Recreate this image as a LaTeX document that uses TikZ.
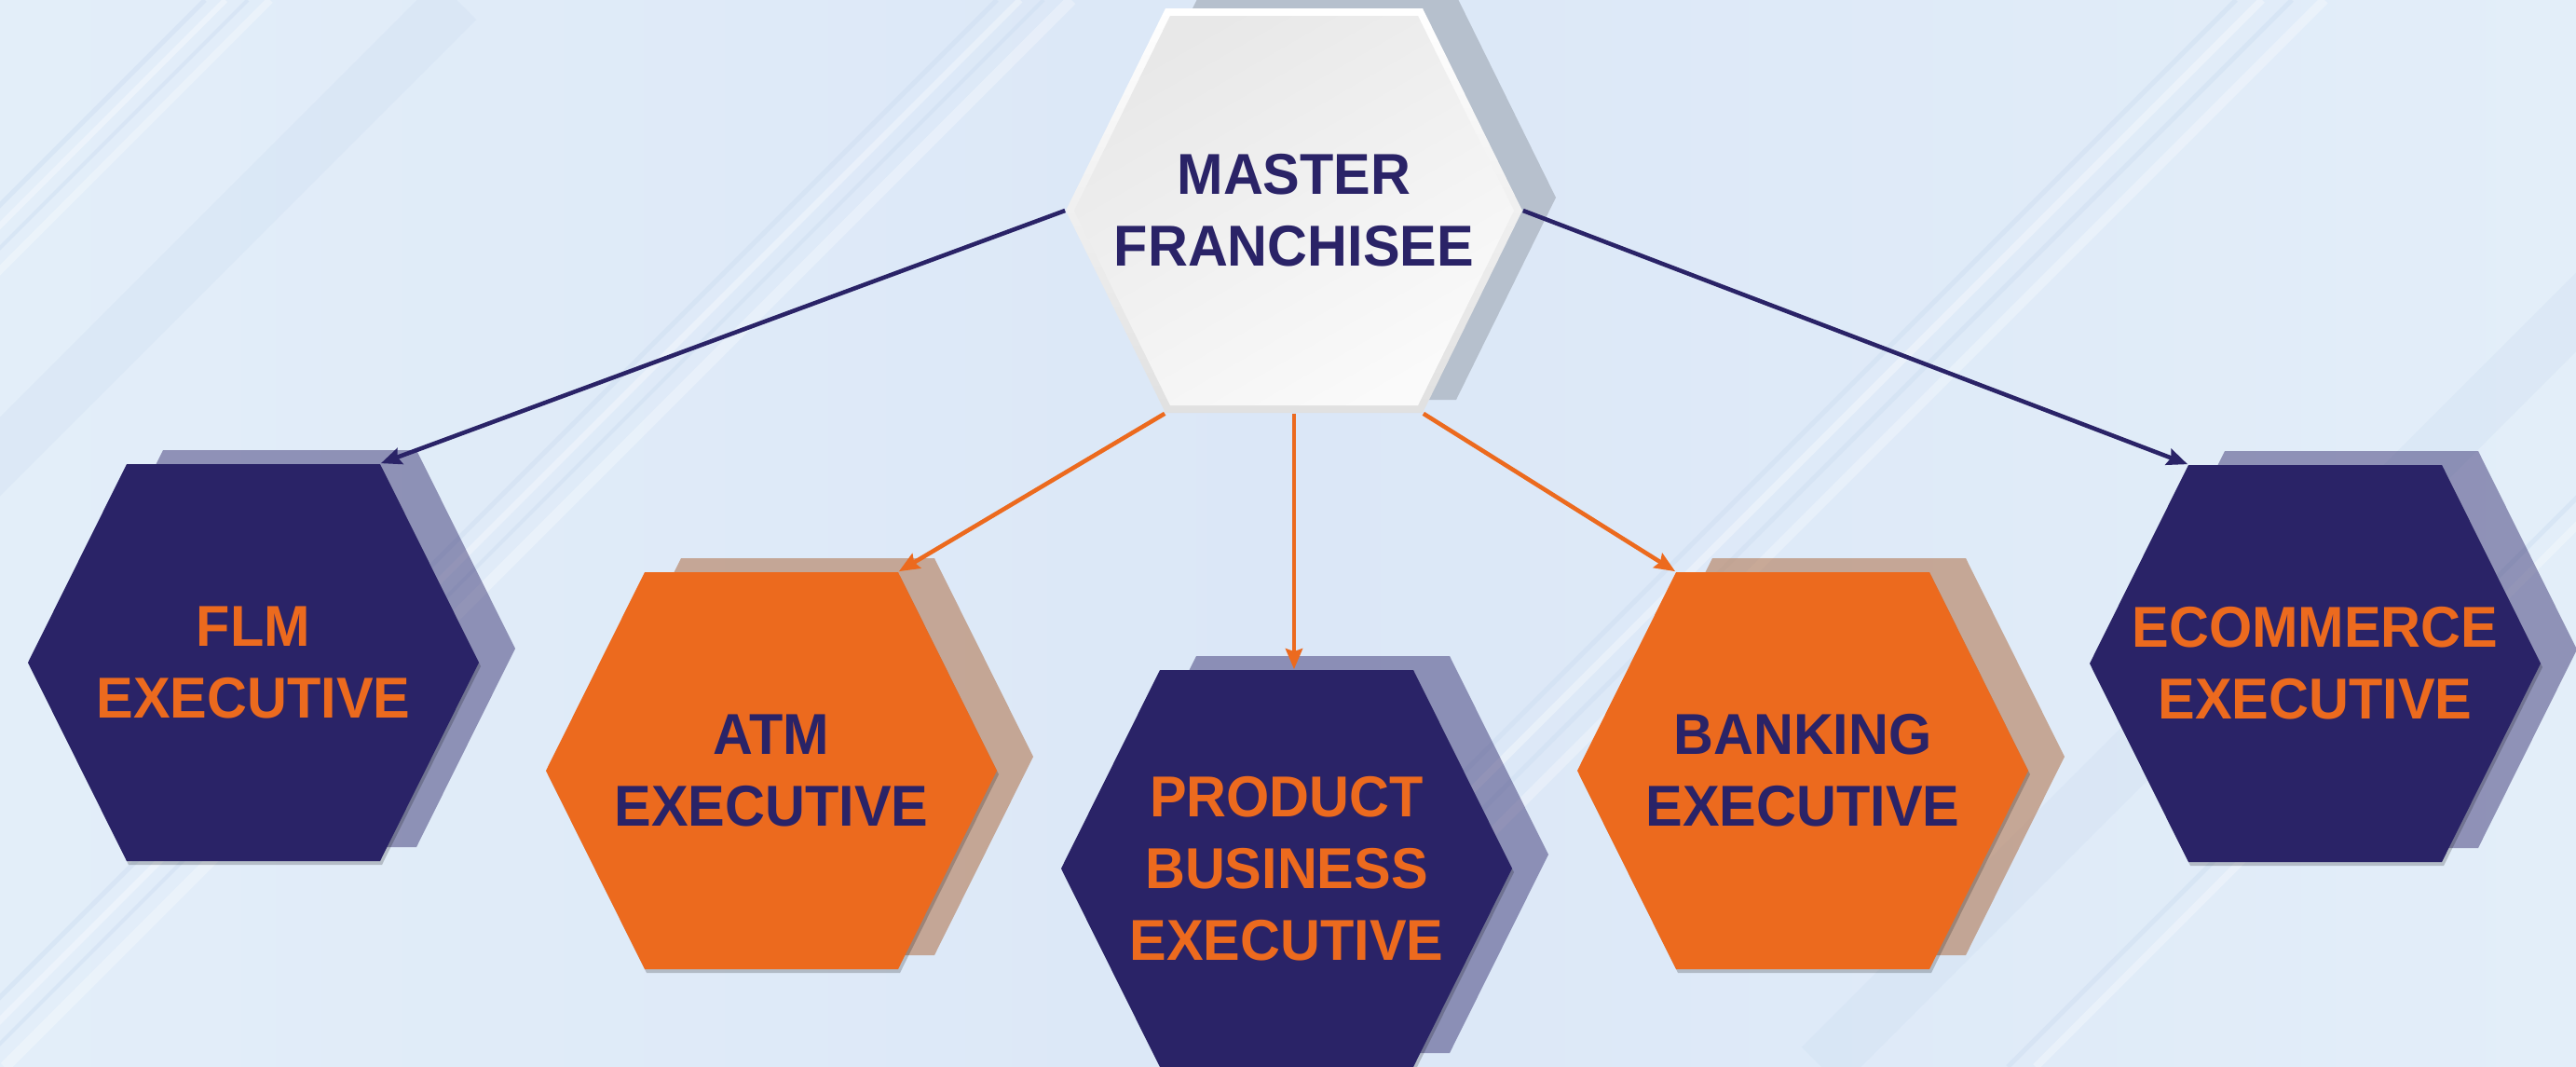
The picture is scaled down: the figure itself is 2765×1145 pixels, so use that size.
\documentclass[tikz,border=0pt]{standalone}
\usepackage{xcolor}
\usepackage{fontspec}
\usepackage{tikz}
\usetikzlibrary{arrows.meta,shapes,positioning,calc}

\newfontfamily\hexfont[FakeStretch=0.96]{Liberation Sans}

\definecolor{navy}{HTML}{2A2367}
\definecolor{brandorange}{HTML}{EC6A1E}
\definecolor{bgmid}{HTML}{DBE7F7}
\definecolor{bgside}{HTML}{E3EEF9}
\definecolor{streakdark}{HTML}{CFDFF2}
\definecolor{orangeshade}{HTML}{B47A55}

% flat-topped hexagon round (cx,cy): half width, half top edge, half height
\newcommand{\hexat}[5]{(#1-#3,#2) -- (#1-#4,#2-#5) -- (#1+#4,#2-#5) -- (#1+#3,#2) -- (#1+#4,#2+#5) -- (#1-#4,#2+#5) -- cycle}

\tikzset{
  hexlabel/.style={rectangle, inner sep=0pt, minimum width=4.84cm, minimum height=4.26cm, align=center,
    font={\hexfont\fontsize{17.6pt}{21.9pt}\bfseries}},
  navyarrow/.style={draw=navy, line width=1.3pt, -{Stealth[length=0.22cm,width=0.18cm,inset=0.03cm]}},
  orangearrow/.style={draw=brandorange, line width=1.3pt, -{Stealth[length=0.22cm,width=0.18cm,inset=0.03cm]}}
}

\begin{document}
\begin{tikzpicture}[x=0.01cm, y=-0.01cm]
    % Canvas
    \useasboundingbox (0,0) rectangle (2765,1145);
    \clip (0,0) rectangle (2765,1145);
    \shade[left color=bgside, right color=bgside, middle color=bgmid] (0,0) rectangle (2765,1145);

    % Diagonal streaks
    \foreach \sx/\w/\col/\op in {220/0.05cm/streakdark/0.5, 242/0.06cm/white/0.35, 266/0.04cm/streakdark/0.5,
        290/0.08cm/white/0.3, 490/0.6cm/streakdark/0.35, 1070/0.05cm/streakdark/0.5, 1095/0.07cm/white/0.35,
        1120/0.04cm/streakdark/0.5, 1150/0.12cm/white/0.3, 2400/0.05cm/streakdark/0.5, 2428/0.08cm/white/0.35,
        2460/0.05cm/streakdark/0.5, 2495/0.1cm/white/0.3, 3100/0.6cm/streakdark/0.35, 3300/0.05cm/streakdark/0.5,
        3330/0.08cm/white/0.3}
        \draw[\col, opacity=\op, line width=\w] (\sx,0) -- ++(-1145,1145);

    % Root node
    \fill[black, opacity=0.17] \hexat{1425}{212}{245}{138}{217};
    \shade[top color=white, bottom color=black!12] \hexat{1389}{226}{245}{138}{217};
    \shade[top color=black!9, bottom color=black!2, shading angle=30] \hexat{1389}{226}{236}{133}{209};
    \node[hexlabel, text=navy, minimum width=4.9cm, minimum height=4.34cm] (master) at (1389,226) {MASTER\\FRANCHISEE};

    % Executive nodes
    \foreach \nm/\cx/\cy/\plate/\ink/\shadecol/\op/\txt in {
        flm/272/711/navy/brandorange/navy/0.45/{FLM\\EXECUTIVE},
        atm/828/827/brandorange/navy/orangeshade/0.6/{ATM\\EXECUTIVE},
        product/1381/932/navy/brandorange/navy/0.45/{PRODUCT\\BUSINESS\\EXECUTIVE},
        banking/1935/827/brandorange/navy/orangeshade/0.6/{BANKING\\EXECUTIVE},
        ecom/2485/712/navy/brandorange/navy/0.45/{ECOMMERCE\\EXECUTIVE}}
    {
        \fill[\shadecol, opacity=\op] \hexat{\cx+39}{\cy-15}{242}{136}{213};
        \fill[black, opacity=0.2] \hexat{\cx+2}{\cy+4}{242}{136}{213};
        \fill[\plate] \hexat{\cx}{\cy}{242}{136}{213};
        \node[hexlabel, text=\ink] (\nm) at (\cx,\cy) {\txt};
    }

    % Connect nodes
    \draw[navyarrow] (master.west) -- ($(flm.north east)+(-106,0)$);
    \draw[navyarrow] (master.east) -- ($(ecom.north west)+(106,0)$);
    \draw[orangearrow] ($(master.south west)+(107,0)$) -- ($(atm.north east)+(-106,0)$);
    \draw[orangearrow] (master.south) -- (master.south |- product.north);
    \draw[orangearrow] ($(master.south east)+(-107,0)$) -- ($(banking.north west)+(106,0)$);
\end{tikzpicture}
\end{document}
